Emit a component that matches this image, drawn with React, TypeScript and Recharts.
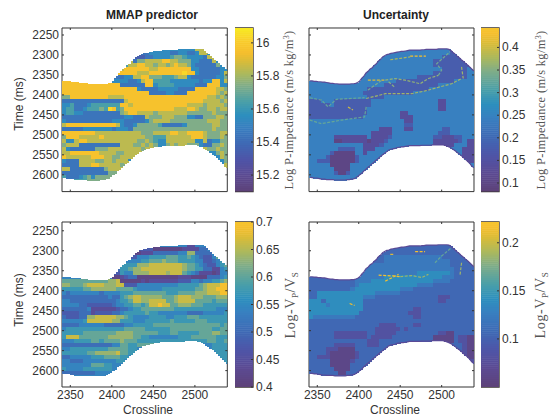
import React from 'react';
import { ScatterChart, Scatter, XAxis, YAxis, ReferenceArea } from 'recharts';

// Section outline, one entry per 2.5 crosslines (time in ms)
const topEdge = [2365,2365,2366,2366,2367,2367,2368,2368,2369,2370,2371,2371,2372,2372,2373,2373,2373,2373,2373,2373,2372,2372,2371,2369,2365,2358,2353,2345,2341,2335,2332,2326,2322,2315,2311,2305,2302,2299,2298,2296,2295,2294,2293,2292,2291,2291,2290,2289,2288,2288,2288,2288,2288,2288,2287,2287,2286,2286,2286,2286,2286,2286,2285,2285,2285,2285,2285,2286,2289,2294,2298,2303,2307,2312,2316,2321,2325,2330,2335,2340];
const bottomEdge = [2606,2607,2608,2608,2609,2610,2611,2611,2612,2612,2612,2612,2613,2613,2613,2613,2613,2613,2612,2612,2611,2610,2608,2604,2600,2596,2590,2586,2581,2577,2572,2568,2563,2559,2554,2550,2546,2542,2538,2536,2535,2534,2532,2531,2530,2530,2529,2528,2527,2527,2527,2527,2527,2527,2526,2526,2526,2526,2526,2525,2525,2525,2525,2525,2525,2526,2528,2530,2533,2536,2540,2544,2548,2552,2557,2561,2566,2571,2578,2582];
const xTicks = [2350, 2400, 2450, 2500];
const timeTicks = [2250, 2300, 2350, 2400, 2450, 2500, 2550, 2600];

// Rows are 10 ms tall, starting at 2280 ms. Each digit covers 5 crosslines and picks a colour-bar level.
const mmapRows = [
'4444444444 4444444444 4444444444 4477744444',
'4444444444 4444444443 3444443344 3347744444',
'4444444444 4444444222 3344445665 4444377444',
'4444444444 4444447366 7777887766 6443337444',
'4444444444 4444457788 7767767877 6433333644',
'4444444444 4444788888 8778888888 8443333344',
'4444444444 4448888877 7888888889 8843333347',
'4444444444 4433344778 8666555677 4333333446',
'8888888888 8344443347 8855554444 4443448847',
'8888888888 8888333333 8845555444 4433388844',
'8888888888 8888888843 3334444433 3388888776',
'8888888888 8888888888 8333344333 8888888767',
'6688888888 8777788888 8888888888 8888877676',
'3333333333 3333378888 8888888888 8888777767',
'4453334555 5555887888 8888888888 7777677776',
'4553345556 5985688888 8888888777 8876677677',
'4554433333 3333678877 7767777777 6666667666',
'3333333333 3333344333 7666777666 4433666776',
'4333333333 3344433333 4677776666 6666677766',
'7888888888 8887433466 6665333334 6666667766',
'3333344444 4434443666 6666666666 6666667666',
'8888888877 7777777776 6677778877 8888766677',
'6888777778 7777777777 6655577777 7888766676',
'7447887777 7777777766 7654477777 7744734466',
'6777333333 3333777667 6764467677 6664336676',
'7433333366 6777777776 7777777766 6666766766',
'7788888887 7776677777 4444444444 4444444676',
'8777777888 7766777744 4444444444 4444444476',
'4333777766 7767774444 4444444444 4444444446',
'3333777887 7777674444 4444444444 4444444447',
'7733333333 6777744444 4444444444 4444444447',
'3333333333 3666644444 4444444444 4444444444',
'5333456466 6664444444 4444444444 4444444444',
'5555556666 6664444444 4444444444 4444444444',
];
const uncertaintyRows = [
'3333333333 3333333333 3333333333 3333333333',
'3333333333 3333333333 3333333333 3333233333',
'3333333333 3333333333 3333333333 3322222333',
'3333333333 3333333333 3333333333 2222222233',
'3333333333 3333333333 3333333333 2222222223',
'3333333333 3333333333 3333333333 3322222233',
'3333333333 3333333333 3333333333 2222222233',
'3333333333 3333333333 3333332222 2222222233',
'3333333333 3333333333 3222222222 2222233333',
'3333333333 3333333322 2222222222 2333333333',
'3333333333 3333222222 2222222223 3333333333',
'3333333333 3332222222 2222233333 3333333333',
'3333333333 3333222233 3333333333 3333333333',
'2223332222 2222233333 3333333333 3113333333',
'2222232222 2222233333 3333333333 3113333333',
'2222222222 2222333333 3333333333 3113333333',
'2222222222 2222333333 3311333333 3333333333',
'2222222222 2223333333 3311133333 3333333333',
'3333333333 3333333333 3331133333 3333333333',
'3333333333 3333333333 3332233333 3333333333',
'3333333333 3333333111 3331133333 3322333333',
'3333333333 3333311111 3333333333 3222333333',
'3333331111 1111311112 3333333333 2211122333',
'3333330011 1111011123 3333333333 1111112311',
'3333333333 3331111233 3333333333 1111133311',
'3333333222 2331113333 3333333333 3333333111',
'3333320000 0331333333 3333333333 3333333111',
'3333200000 0233333333 3333333333 3333333111',
'3322200000 0233333333 3333333333 3333333311',
'3333300000 3333333333 3333333333 3333333333',
'3333330000 3333333333 3333333333 3333333333',
'3333332002 3333333333 3333333333 3333333333',
'3333333333 3333333333 3333333333 3333333333',
'3333333333 3333333333 3333333333 3333333333',
];
const ratioRows = [
'4444444444 4444444444 4444444444 1144444444',
'4444444444 4444444422 2200000001 1113344444',
'4444444444 4444441001 1133333344 7733334444',
'4444444444 4444422244 4555566655 6543224644',
'4444444444 4444444445 5666766655 5544223456',
'4444444444 4444555577 7888888887 6654322456',
'4444444444 4443556778 8888888887 6655331145',
'4444444444 4422544777 7888878886 5431110144',
'4444444444 4400123300 0000000011 1000033345',
'6666666666 6778000001 0111111122 2443445567',
'7766678888 7778822244 4444444455 5556788899',
'5555566777 7776666544 4444555555 5566788999',
'4344444443 4444555666 6666655566 6677788899',
'3333333333 3433567887 7777666788 8777666777',
'4433333333 3334556887 7888866788 8866665666',
'4444332222 2234455665 6889886677 7666555555',
'3333334111 1112334556 6666666555 5555555444',
'2222333122 2233455555 6554444444 3333444445',
'3222337788 8887765444 4555544555 6665555555',
'4444458888 8877555444 5555556555 5566655555',
'3333444444 3333344555 5566666666 6666666656',
'4555555555 5555566666 5555556666 6666665566',
'5555566666 6667777666 6665556655 5556667766',
'5888666666 6777777665 5444444455 5666666555',
'4445555665 6666766655 5555555555 5555566556',
'3333333333 3344665566 6666666666 4444445555',
'4455555555 5666665544 4444444444 4444445555',
'5555556677 7778665544 4444444444 4444444555',
'3344444555 6666554444 4444444444 4444444455',
'4433344444 4445544444 4444444444 4444444445',
'4444444666 5544444444 4444444444 4444444444',
'5444455555 5544444444 4444444444 4444444444',
'3333333344 4444444444 4444444444 4444444444',
'4444444444 4444444444 4444444444 4444444444',
];
const ratioUncertaintyRows = [
'2222222222 2222222222 2222222222 2222222222',
'2222222222 2222222222 2222222222 2222222222',
'2222222222 2222222222 2222222222 2222222222',
'2222222222 2222222233 3333333333 3322222222',
'2222222222 2222222233 3333333333 3333222222',
'2222222222 2222333333 3333333333 3333222222',
'2222222222 2223333333 3333333333 3333322222',
'2222222222 2223333333 3333334444 4444322222',
'2222222222 2333333344 4444444444 4433322222',
'2222222222 2333344444 4444444444 3333222222',
'2222222222 2344444444 4444443333 2222222222',
'2222222222 3444444444 4433322222 2222222222',
'2244444444 4444443333 3322222222 2222222222',
'2244444444 4443332222 2222222222 2111222222',
'4442444444 4442222222 2222222222 2112222222',
'4444344444 4442222222 2222222222 2222222222',
'4444444444 4442222222 2222211222 2222222222',
'4444444444 4422222222 2222111222 2222222222',
'4333333333 3222222222 2222211222 2222222222',
'2222222222 2222222222 2222222222 2222222222',
'2222222222 2222222111 1222211222 2222222222',
'2222222222 2222221111 1121222222 2222222222',
'2222221111 1111221111 1222222222 2110022222',
'2222221111 1111211111 2222222222 0000021100',
'2222222222 2222111222 2222222222 0000021100',
'2222221111 1222111222 2222222222 2222222100',
'2222111000 0222222222 2222222222 2222222100',
'2222100000 0122222222 2222222222 2222222100',
'2211100000 0122222222 2222222222 2222222100',
'2222200000 1222222222 2222222222 2222222211',
'2222200000 2222222222 2222222222 2222222222',
'2222220000 2222222222 2222222222 2222222222',
'2222222002 2222222222 2222222222 2222222222',
'2222222222 2222222222 2222222222 2222222222',
];

// Colour-bar fraction of each digit, per panel
const mmapLevels = [0.05, 0.15, 0.25, 0.35, 0.45, 0.55, 0.65, 0.75, 0.87, 0.95];
const uncertaintyLevels = [0.05, 0.14, 0.24, 0.4, 0.48];
const ratioLevels = [0.05, 0.13, 0.23, 0.32, 0.42, 0.51, 0.6, 0.69, 0.77, 0.86];
const ratioUncertaintyLevels = [0.06, 0.17, 0.29, 0.37, 0.46];

// Thin high-uncertainty horizons: [crossline, time] pairs and a colour-bar fraction
type Stroke = { pts: number[][]; f: number };
const uncertaintyStrokes: Stroke[] = [
  { pts: [[2462,2303],[2481,2303]], f: 0.86 },
  { pts: [[2438,2312],[2462,2305]], f: 0.72 },
  { pts: [[2411,2363],[2432,2363]], f: 0.8 },
  { pts: [[2432,2363],[2444,2359],[2456,2363],[2474,2372],[2484,2359],[2496,2351]], f: 0.68 },
  { pts: [[2496,2351],[2500,2338],[2494,2322],[2510,2292]], f: 0.62 },
  { pts: [[2524,2330],[2526,2359]], f: 0.7 },
  { pts: [[2409,2409],[2432,2397],[2464,2397],[2480,2390],[2512,2372],[2524,2359]], f: 0.7 },
  { pts: [[2341,2407],[2355,2413],[2363,2430],[2373,2411],[2407,2407]], f: 0.6 },
  { pts: [[2341,2463],[2355,2472],[2379,2463],[2407,2455],[2409,2430]], f: 0.6 },
  { pts: [[2387,2430],[2393,2438]], f: 0.78 },
  { pts: [[2411,2388],[2428,2363]], f: 0.64 },
  { pts: [[2436,2367],[2444,2382]], f: 0.66 },
];
const ratioUncertaintyStrokes: Stroke[] = [
  { pts: [[2468,2302],[2480,2302]], f: 0.86 },
  { pts: [[2438,2309],[2442,2309]], f: 0.82 },
  { pts: [[2424,2361],[2442,2363],[2450,2365]], f: 0.86 },
  { pts: [[2450,2365],[2464,2362],[2476,2367],[2484,2359]], f: 0.7 },
  { pts: [[2432,2376],[2448,2359]], f: 0.84 },
  { pts: [[2492,2330],[2500,2313],[2512,2292]], f: 0.6 },
  { pts: [[2524,2330],[2522,2363]], f: 0.7 },
  { pts: [[2389,2432],[2395,2437]], f: 0.84 },
];

const mmapBar = { lo: 15.1, hi: 16.09, ticks: [15.2, 15.4, 15.6, 15.8, 16], span: 1 };
const uncertaintyBar = { lo: 0.081, hi: 0.443, ticks: [0.1, 0.15, 0.2, 0.25, 0.3, 0.35, 0.4], span: 0.88 };
const ratioBar = { lo: 0.4, hi: 0.7, ticks: [0.4, 0.45, 0.5, 0.55, 0.6, 0.65, 0.7], span: 0.88 };
const ratioUncertaintyBar = { lo: 0.05, hi: 0.2216, ticks: [0.1, 0.15, 0.2], span: 0.88 };

const stops: [number, number[]][] = [
  [0, [93, 66, 120]], [0.1, [92, 74, 146]], [0.2, [78, 85, 168]], [0.3, [62, 106, 181]],
  [0.4, [56, 128, 192]], [0.47, [45, 143, 190]], [0.55, [74, 159, 168]], [0.65, [128, 173, 136]],
  [0.72, [170, 184, 94]], [0.8, [218, 188, 56]], [0.85, [245, 190, 46]], [0.92, [249, 204, 44]], [1, [248, 234, 32]],
];
const colorAt = (f: number) => {
  const v = Math.max(0, Math.min(1, f));
  for (let i = 1; i < stops.length; i++) {
    if (v <= stops[i][0]) {
      const [a, ca] = stops[i - 1];
      const [b, cb] = stops[i];
      const t = (v - a) / (b - a);
      return `rgb(${ca.map((c, k) => Math.round(c + (cb[k] - c) * t)).join(',')})`;
    }
  }
  return 'rgb(248,234,32)';
};

const sans = '"Liberation Sans", Arial, sans-serif';
const serif = '"Liberation Serif", "Times New Roman", serif';
const ink = '#333';
const edgeX = (k: number) => 2341.25 + 2.5 * k;

const buildCells = (rows: string[], levels: number[]) => {
  const out: any[] = [];
  rows.forEach((row, r) => {
    const digits = row.replace(/ /g, '');
    digits.split('').forEach((ch, i) => {
      [2 * i, 2 * i + 1].forEach((k) => {
        const t0 = Math.max(2280 + 10 * r, topEdge[k]);
        const t1 = Math.min(2290 + 10 * r, bottomEdge[k]);
        if (t1 <= t0) return;
        out.push({ x: edgeX(k), y: (t0 + t1) / 2, dt: t1 - t0, fill: colorAt(levels[Number(ch)]) });
      });
    });
  });
  return out;
};

type PanelProps = {
  left: number; top: number; w: number; h: number; domain: number[];
  rows: string[]; levels: number[]; xLabels: boolean; yLabels: boolean;
  strokes?: Stroke[]; edge?: boolean;
};
const GUTTER = 50;
const X_DOMAIN = [2340, 2539];

const Panel = ({ left, top, w, h, domain, rows, levels, xLabels, yLabels, strokes, edge }: PanelProps) => {
  const data = buildCells(rows, levels);
  const pxX = w / (X_DOMAIN[1] - X_DOMAIN[0]);
  const pxY = h / (domain[1] - domain[0]);
  const cell = (p: any) => (
    <rect x={p.cx - 1.25 * pxX} y={p.cy - (p.payload.dt * pxY) / 2} width={2.5 * pxX + 0.6} height={p.payload.dt * pxY + 0.6} fill={p.payload.fill} shapeRendering="crispEdges" />
  );
  const blank = () => <g />;
  const xTick = (p: any) => (
    <g>
      <line x1={p.x} x2={p.x} y1={p.y} y2={p.y - 2} stroke={ink} />
      <line x1={p.x} x2={p.x} y1={p.y - h} y2={p.y - h + 2} stroke={ink} />
      {xLabels && <text x={p.x} y={p.y + 12} textAnchor="middle" fontSize={12} fontFamily={sans} fill={ink}>{p.payload.value}</text>}
    </g>
  );
  const yTick = (p: any) => (
    <g>
      <line x1={p.x} x2={p.x + 2} y1={p.y} y2={p.y} stroke={ink} />
      <line x1={p.x + w} x2={p.x + w - 2} y1={p.y} y2={p.y} stroke={ink} />
      {yLabels && <text x={p.x - 3} y={p.y + 4} textAnchor="end" fontSize={12} fontFamily={sans} fill={ink}>{p.payload.value}</text>}
    </g>
  );
  return (
    <div className="heat" style={{ position: 'absolute', left: left - GUTTER, top: top - 5 }}>
      <ScatterChart width={GUTTER + w + 10} height={h + 30} margin={{ top: 5, right: 10, left: 0, bottom: 0 }}>
        <XAxis type="number" dataKey="x" domain={X_DOMAIN} ticks={xTicks} interval={0} height={25} axisLine={false} tickLine={false} tickSize={0} tickMargin={0} tick={xTick} allowDataOverflow />
        <YAxis type="number" dataKey="y" domain={domain} reversed ticks={timeTicks} interval={0} width={GUTTER} axisLine={false} tickLine={false} tickSize={0} tickMargin={0} tick={yTick} allowDataOverflow />
        <Scatter data={data} shape={cell} isAnimationActive={false} />
        {edge && (
          <Scatter data={topEdge.map((y, k) => ({ x: edgeX(k), y }))} line={{ stroke: '#5a4a96', strokeWidth: 1.2 }} shape={blank} isAnimationActive={false} />
        )}
        {edge && (
          <Scatter data={bottomEdge.map((y, k) => ({ x: edgeX(k), y }))} line={{ stroke: '#5a4a96', strokeWidth: 1.2 }} shape={blank} isAnimationActive={false} />
        )}
        {(strokes || []).map((s, k) => (
          <Scatter key={k} data={s.pts.map(([x, y]) => ({ x, y }))} line={{ stroke: colorAt(s.f), strokeWidth: 1.2, strokeDasharray: '3 1.5' }} shape={blank} isAnimationActive={false} />
        ))}
        <ReferenceArea x1={X_DOMAIN[0]} x2={X_DOMAIN[1]} y1={domain[0]} y2={domain[1]} fill="none" stroke={ink} strokeWidth={1} ifOverflow="visible" />
      </ScatterChart>
    </div>
  );
};

const BAR_W = 18;
const ColorBar = ({ left, top, h, bar }: { left: number; top: number; h: number; bar: typeof mmapBar }) => {
  const steps = Array.from({ length: 80 }, (_, i) => i);
  const data = steps.map((i) => ({ x: 0.5, y: bar.lo + ((i + 0.5) / 80) * (bar.hi - bar.lo), fill: colorAt(((i + 0.5) / 80) * bar.span) }));
  const seg = (p: any) => <rect x={p.cx - BAR_W / 2} y={p.cy - h / 160} width={BAR_W} height={h / 80 + 0.5} fill={p.payload.fill} />;
  const tick = (p: any) => (
    <g>
      <line x1={p.x} x2={p.x - 2} y1={p.y} y2={p.y} stroke={ink} />
      <text x={p.x + 3} y={p.y + 4} fontSize={12} fontFamily={sans} fill={ink}>{p.payload.value}</text>
    </g>
  );
  return (
    <div style={{ position: 'absolute', left, top: top - 10 }}>
      <ScatterChart width={BAR_W + 40} height={h + 20} margin={{ top: 10, right: 0, left: 0, bottom: 10 }}>
        <XAxis type="number" dataKey="x" domain={[0, 1]} hide />
        <YAxis type="number" dataKey="y" orientation="right" domain={[bar.lo, bar.hi]} ticks={bar.ticks} interval={0} width={40} axisLine={false} tickLine={false} tickSize={0} tickMargin={0} tick={tick} allowDataOverflow />
        <Scatter data={data} shape={seg} isAnimationActive={false} />
        <ReferenceArea x1={0} x2={1} y1={bar.lo} y2={bar.hi} fill="none" stroke="#3a3530" strokeWidth={1.4} ifOverflow="visible" />
      </ScatterChart>
    </div>
  );
};

const ImpedanceLabel = ({ x, y }: { x: number; y: number }) => (
  <text transform={`translate(${x},${y}) rotate(-90)`} textAnchor="middle" fontFamily={serif} fontSize={12.4} fill="#555" letterSpacing={0.35}>
    Log P-impedance (m/s kg/m<tspan dy={-4} fontSize={8}>3</tspan><tspan dy={4}>)</tspan>
  </text>
);
const RatioLabel = ({ x, y }: { x: number; y: number }) => (
  <text transform={`translate(${x},${y}) rotate(-90)`} textAnchor="middle" fontFamily={serif} fontSize={14} fill="#555" letterSpacing={0.6}>
    Log-V<tspan dy={3} fontSize={9}>P</tspan><tspan dy={-3}>/V</tspan><tspan dy={3} fontSize={9}>S</tspan>
  </text>
);

export default function App() {
  return (
    <div style={{ position: 'absolute', left: 0, top: 0, width: 558, height: 416, background: '#fff', overflow: 'hidden' }}>
      <style>{`.heat .recharts-layer:has(> .recharts-scatter-symbol rect) { filter: blur(0.65px); }`}</style>
      <Panel left={62} top={27.7} w={165.3} h={163.6} domain={[2232.5, 2642]} rows={mmapRows} levels={mmapLevels} xLabels={false} yLabels />
      <Panel left={308.7} top={27.7} w={165} h={163.6} domain={[2232.5, 2642]} rows={uncertaintyRows} levels={uncertaintyLevels} xLabels={false} yLabels={false} strokes={uncertaintyStrokes} edge />
      <Panel left={62} top={222} w={165.3} h={165} domain={[2228, 2641]} rows={ratioRows} levels={ratioLevels} xLabels yLabels />
      <Panel left={308.7} top={222} w={165} h={165} domain={[2228, 2641]} rows={ratioUncertaintyRows} levels={ratioUncertaintyLevels} xLabels yLabels={false} strokes={ratioUncertaintyStrokes} edge />
      <ColorBar left={234.5} top={27.7} h={163.6} bar={mmapBar} />
      <ColorBar left={480.7} top={27.7} h={163.6} bar={uncertaintyBar} />
      <ColorBar left={234.5} top={222} h={165} bar={ratioBar} />
      <ColorBar left={480.7} top={222} h={165} bar={ratioUncertaintyBar} />
      <svg width={558} height={416} style={{ position: 'absolute', left: 0, top: 0, pointerEvents: 'none' }}>
        <text x={152} y={19} textAnchor="middle" fontFamily={sans} fontWeight="bold" fontSize={12} fill="#222">MMAP predictor</text>
        <text x={396} y={19} textAnchor="middle" fontFamily={sans} fontWeight="bold" fontSize={12} fill="#222">Uncertainty</text>
        <text transform="translate(23,104) rotate(-90)" textAnchor="middle" fontFamily={sans} fontSize={12} fill={ink}>Time (ms)</text>
        <text transform="translate(23,300) rotate(-90)" textAnchor="middle" fontFamily={sans} fontSize={12} fill={ink}>Time (ms)</text>
        <text x={148} y={414} textAnchor="middle" fontFamily={sans} fontSize={12} fill={ink}>Crossline</text>
        <text x={395} y={414} textAnchor="middle" fontFamily={sans} fontSize={12} fill={ink}>Crossline</text>
        <ImpedanceLabel x={293} y={110} />
        <ImpedanceLabel x={545} y={110} />
        <RatioLabel x={295} y={305} />
        <RatioLabel x={545} y={305} />
      </svg>
    </div>
  );
}
